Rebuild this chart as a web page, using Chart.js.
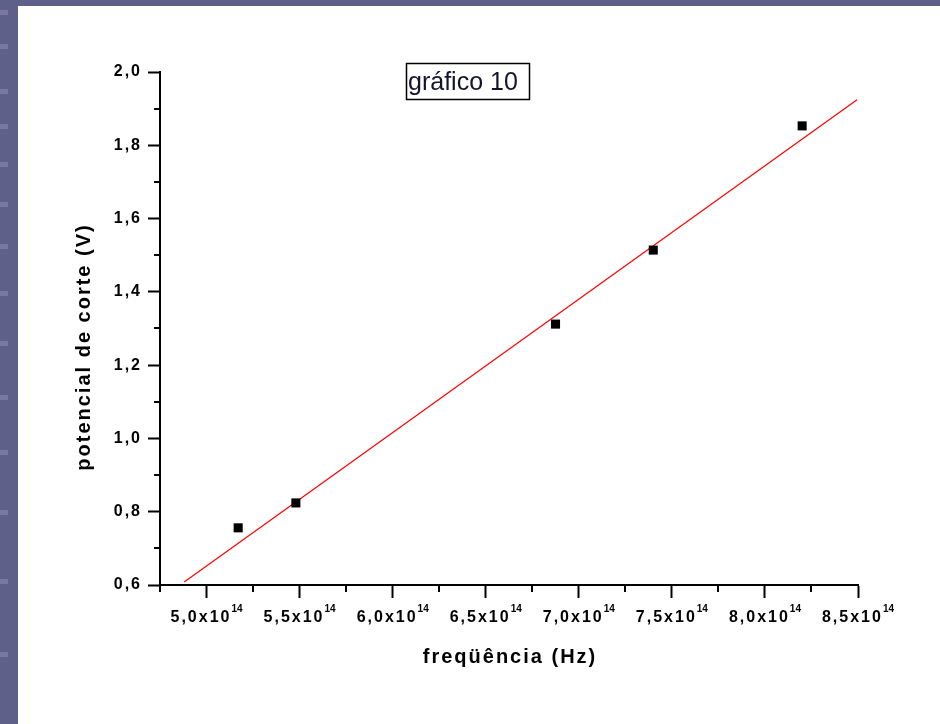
<!DOCTYPE html>
<html>
<head>
<meta charset="utf-8">
<title>gráfico 10</title>
<script src="https://cdn.jsdelivr.net/npm/chart.js@4.4.0/dist/chart.umd.min.js"></script>
<style>
    html, body { margin: 0; padding: 0; }
    body { width: 940px; height: 724px; background: #5e6089; position: relative; overflow: hidden; }
    #slide { position: absolute; left: 18px; top: 6px; right: 0; bottom: 0; background: #fff; }
    .dash { position: absolute; left: 0; width: 8px; height: 5px; background: #7779a2; }
    #wrap { position: absolute; left: 0; top: 0; width: 940px; height: 724px; }
</style>
</head>
<body>
<div id="slide"></div>
<div id="wrap"><canvas id="chart" width="940" height="724"></canvas></div>
<script>
// ============== DATA ==============
// frequency in units of 10^14 Hz, cut-off potential in V
const freq = [5.17, 5.48, 6.875, 7.40, 8.20];
const cutoff = [0.756, 0.824, 1.312, 1.514, 1.853];

// linear fit, end points as drawn
const fitFreq = [4.88, 8.495];
const fitV = [0.608, 1.924];

// axes
const xMin = 4.75, xMax = 8.5, xStep = 0.5;
const yMin = 0.6, yMax = 2.0, yStep = 0.2;
const xMinor = [4.75, 5.25, 5.75, 6.25, 6.75, 7.25, 7.75, 8.25];
const yMinor = [0.7, 0.9, 1.1, 1.3, 1.5, 1.7, 1.9];
const xExponent = '14';

const chartTitle = 'gráfico 10';
const xTitle = 'freqüência (Hz)';
const yTitle = 'potencial de corte (V)';

// slide decoration on the left border
[10, 44, 89, 124, 162, 202, 244, 291, 341, 395, 450, 510, 579, 652].forEach(top => {
    const d = document.createElement('div');
    d.className = 'dash';
    d.style.top = top + 'px';
    document.body.appendChild(d);
});

const fmt = v => v.toFixed(1).replace('.', ',');
const FONT = "'Liberation Sans', Arial, sans-serif";

// Extra drawing: minor ticks, x labels with exponent, titles, annotation box
const decor = {
    id: 'decor',
    beforeDraw(chart) {
        chart.ctx.letterSpacing = '2px';
    },
    afterDraw(chart) {
        const { ctx, chartArea, scales: { x, y } } = chart;
        ctx.save();
        ctx.strokeStyle = '#000';
        ctx.lineWidth = 2;

        // minor ticks
        ctx.beginPath();
        yMinor.forEach(v => {
            const py = Math.round(y.getPixelForValue(v));
            ctx.moveTo(chartArea.left - 6, py);
            ctx.lineTo(chartArea.left, py);
        });
        xMinor.forEach(v => {
            const px = Math.round(x.getPixelForValue(v));
            ctx.moveTo(px, chartArea.bottom);
            ctx.lineTo(px, chartArea.bottom + 7);
        });
        ctx.stroke();

        // x tick labels "5,0x10^14"
        ctx.fillStyle = '#000';
        ctx.textBaseline = 'alphabetic';
        ctx.textAlign = 'left';
        x.ticks.forEach(t => {
            const px = x.getPixelForValue(t.value);
            const main = fmt(t.value) + 'x10';
            ctx.letterSpacing = '2px';
            ctx.font = 'bold 16px ' + FONT;
            const w1 = ctx.measureText(main).width;
            ctx.font = 'bold 10px ' + FONT;
            ctx.letterSpacing = '0px';
            const w2 = ctx.measureText(xExponent).width;
            const start = px - (w1 + w2) / 2;
            ctx.font = 'bold 16px ' + FONT;
            ctx.letterSpacing = '2px';
            ctx.fillText(main, start, chartArea.bottom + 37);
            ctx.font = 'bold 10px ' + FONT;
            ctx.letterSpacing = '0px';
            ctx.fillText(xExponent, start + w1, chartArea.bottom + 27);
        });

        // axis titles
        ctx.letterSpacing = '2px';
        ctx.font = 'bold 20px ' + FONT;
        ctx.textAlign = 'center';
        ctx.textBaseline = 'middle';
        ctx.fillText(xTitle, (chartArea.left + chartArea.right) / 2 + 1, chartArea.bottom + 72);

        ctx.save();
        ctx.translate(84, 347);
        ctx.rotate(-Math.PI / 2);
        ctx.fillText(yTitle, 0, 0);
        ctx.restore();

        // annotation box
        ctx.letterSpacing = '0px';
        ctx.lineWidth = 1.5;
        ctx.strokeRect(406.5, 63.5, 123, 36);
        ctx.font = '25px ' + FONT;
        ctx.fillStyle = '#14142a';
        ctx.textAlign = 'left';
        ctx.textBaseline = 'alphabetic';
        ctx.fillText(chartTitle, 408, 90);
        ctx.restore();
    }
};

const ctx = document.getElementById('chart').getContext('2d');
const chart = new Chart(ctx, {
    type: 'scatter',
    data: {
        datasets: [{
            label: 'dados',
            data: freq.map((f, i) => ({ x: f, y: cutoff[i] })),
            pointStyle: 'rect',
            pointRadius: 6.4,
            backgroundColor: '#000',
            borderColor: '#000',
            borderWidth: 0
        }, {
            label: 'ajuste linear',
            data: fitFreq.map((f, i) => ({ x: f, y: fitV[i] })),
            showLine: true,
            pointRadius: 0,
            borderColor: '#ff0000',
            borderWidth: 1.2,
            fill: false
        }]
    },
    options: {
        responsive: false,
        animation: false,
        devicePixelRatio: 1,
        layout: {
            padding: { left: 0, top: 72, right: 82, bottom: 0 }
        },
        plugins: {
            legend: { display: false },
            tooltip: { enabled: false }
        },
        scales: {
            x: {
                type: 'linear',
                min: xMin,
                max: xMax,
                afterFit: scale => { scale.height = 139; },
                ticks: {
                    stepSize: xStep,
                    includeBounds: false,
                    autoSkip: false,
                    maxRotation: 0,
                    callback: () => ''
                },
                grid: {
                    drawOnChartArea: false,
                    drawTicks: true,
                    tickLength: 13,
                    tickColor: '#000',
                    tickWidth: 2
                },
                border: { color: '#000', width: 2 }
            },
            y: {
                type: 'linear',
                min: yMin,
                max: yMax,
                afterFit: scale => { scale.width = 160; },
                ticks: {
                    stepSize: yStep,
                    padding: 6,
                    color: '#000',
                    font: { family: FONT, size: 16, weight: 'bold' },
                    callback: v => fmt(v)
                },
                grid: {
                    drawOnChartArea: false,
                    drawTicks: true,
                    tickLength: 12,
                    tickColor: '#000',
                    tickWidth: 2
                },
                border: { color: '#000', width: 2 }
            }
        }
    },
    plugins: [decor]
});
</script>
</body>
</html>
